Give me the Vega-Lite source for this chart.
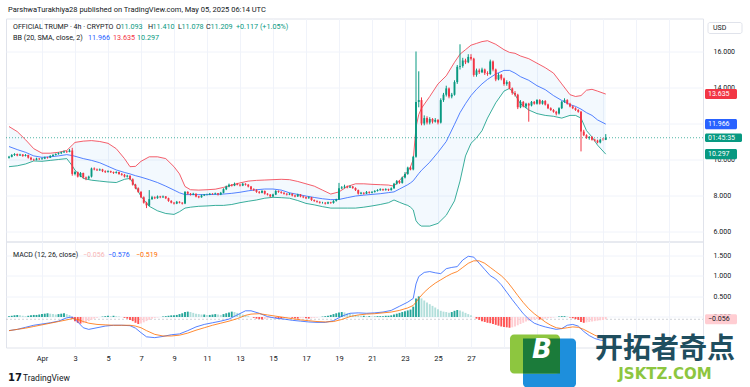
{
"$schema":"https://vega.github.io/schema/vega-lite/v6.json",
"padding":{"left":5,"top":5.5,"right":0,"bottom":0},
"background":"#ffffff",
"spacing":0,
"bounds":"flush",
"resolve":{"scale":{"x":"independent","y":"independent","color":"independent"}},
"config":{"scale":{"continuousPadding":0},"view":{"stroke":"#e0e3eb"},"axis":{"labelFont":"Roboto","labelFontSize":7,"labelColor":"#131722","gridColor":"#f0f3fa","domain":false,"ticks":false,"tickSize":0,"title":null,"labelOverlap":false,"labelFlush":false},"text":{"font":"Roboto"}},
"datasets":{
"k":[
{"t":"2025-03-30T00:00Z","o":10.1,"h":10.2,"l":10.05,"c":10.15,"m":0.02},
{"t":"2025-03-30T04:00Z","o":10.15,"h":10.3,"l":10.12,"c":10.25,"m":0.03},
{"t":"2025-03-30T08:00Z","o":10.25,"h":10.35,"l":10.2,"c":10.3,"m":0.04},
{"t":"2025-03-30T12:00Z","o":10.3,"h":10.33,"l":10.18,"c":10.22,"m":0.05},
{"t":"2025-03-30T16:00Z","o":10.22,"h":10.32,"l":10.2,"c":10.28,"m":0.04},
{"t":"2025-03-30T20:00Z","o":10.28,"h":10.3,"l":10.15,"c":10.2,"m":0.03},
{"t":"2025-03-31T00:00Z","o":10.2,"h":10.3,"l":10.17,"c":10.25,"m":0.02},
{"t":"2025-03-31T04:00Z","o":10.25,"h":10.27,"l":10.05,"c":10.1,"m":0.03},
{"t":"2025-03-31T08:00Z","o":10.1,"h":10.15,"l":9.95,"c":10.0,"m":0.04},
{"t":"2025-03-31T12:00Z","o":10.0,"h":10.05,"l":9.92,"c":9.98,"m":0.05},
{"t":"2025-03-31T16:00Z","o":9.98,"h":10.1,"l":9.95,"c":10.05,"m":0.05},
{"t":"2025-03-31T20:00Z","o":10.05,"h":10.08,"l":9.97,"c":10.02,"m":0.06},
{"t":"2025-04-01T00:00Z","o":10.02,"h":10.1,"l":10.0,"c":10.05,"m":0.07},
{"t":"2025-04-01T04:00Z","o":10.05,"h":10.16,"l":10.02,"c":10.12,"m":0.08},
{"t":"2025-04-01T08:00Z","o":10.12,"h":10.15,"l":10.05,"c":10.1,"m":0.09},
{"t":"2025-04-01T12:00Z","o":10.1,"h":10.24,"l":10.08,"c":10.2,"m":0.08},
{"t":"2025-04-01T16:00Z","o":10.2,"h":10.3,"l":10.17,"c":10.25,"m":0.07},
{"t":"2025-04-01T20:00Z","o":10.25,"h":10.34,"l":10.22,"c":10.3,"m":0.06},
{"t":"2025-04-02T00:00Z","o":10.3,"h":10.4,"l":10.27,"c":10.35,"m":0.07},
{"t":"2025-04-02T04:00Z","o":10.35,"h":10.44,"l":10.3,"c":10.4,"m":0.08},
{"t":"2025-04-02T08:00Z","o":10.4,"h":10.5,"l":10.36,"c":10.45,"m":0.09},
{"t":"2025-04-02T12:00Z","o":10.45,"h":10.48,"l":10.36,"c":10.42,"m":0.07},
{"t":"2025-04-02T16:00Z","o":10.42,"h":10.58,"l":10.4,"c":10.5,"m":0.05},
{"t":"2025-04-02T20:00Z","o":10.5,"h":10.65,"l":9.1,"c":9.2,"m":-0.04},
{"t":"2025-04-03T00:00Z","o":9.2,"h":9.38,"l":9.12,"c":9.3,"m":-0.1},
{"t":"2025-04-03T04:00Z","o":9.3,"h":9.33,"l":9.0,"c":9.05,"m":-0.14},
{"t":"2025-04-03T08:00Z","o":9.05,"h":9.3,"l":9.02,"c":9.25,"m":-0.16},
{"t":"2025-04-03T12:00Z","o":9.25,"h":9.27,"l":8.95,"c":9.0,"m":-0.15},
{"t":"2025-04-03T16:00Z","o":9.0,"h":9.05,"l":8.85,"c":8.95,"m":-0.13},
{"t":"2025-04-03T20:00Z","o":8.95,"h":9.1,"l":8.9,"c":9.05,"m":-0.1},
{"t":"2025-04-04T00:00Z","o":9.05,"h":9.55,"l":9.0,"c":9.5,"m":-0.07},
{"t":"2025-04-04T04:00Z","o":9.5,"h":9.56,"l":9.4,"c":9.45,"m":-0.04},
{"t":"2025-04-04T08:00Z","o":9.45,"h":9.5,"l":9.36,"c":9.4,"m":-0.02},
{"t":"2025-04-04T12:00Z","o":9.4,"h":9.5,"l":9.37,"c":9.45,"m":0.0},
{"t":"2025-04-04T16:00Z","o":9.45,"h":9.48,"l":9.3,"c":9.35,"m":0.01},
{"t":"2025-04-04T20:00Z","o":9.35,"h":9.4,"l":9.25,"c":9.3,"m":0.02},
{"t":"2025-04-05T00:00Z","o":9.3,"h":9.4,"l":9.27,"c":9.35,"m":0.03},
{"t":"2025-04-05T04:00Z","o":9.35,"h":9.38,"l":9.25,"c":9.3,"m":0.02},
{"t":"2025-04-05T08:00Z","o":9.3,"h":9.33,"l":9.2,"c":9.25,"m":0.03},
{"t":"2025-04-05T12:00Z","o":9.25,"h":9.35,"l":9.22,"c":9.3,"m":0.02},
{"t":"2025-04-05T16:00Z","o":9.3,"h":9.32,"l":9.15,"c":9.2,"m":0.01},
{"t":"2025-04-05T20:00Z","o":9.2,"h":9.25,"l":9.1,"c":9.15,"m":0.0},
{"t":"2025-04-06T00:00Z","o":9.15,"h":9.2,"l":9.0,"c":9.05,"m":-0.02},
{"t":"2025-04-06T04:00Z","o":9.05,"h":9.15,"l":9.0,"c":9.1,"m":-0.04},
{"t":"2025-04-06T08:00Z","o":9.1,"h":9.12,"l":8.85,"c":8.9,"m":-0.07},
{"t":"2025-04-06T12:00Z","o":8.9,"h":8.95,"l":8.55,"c":8.6,"m":-0.1},
{"t":"2025-04-06T16:00Z","o":8.6,"h":8.65,"l":8.35,"c":8.4,"m":-0.14},
{"t":"2025-04-06T20:00Z","o":8.4,"h":8.45,"l":8.15,"c":8.2,"m":-0.17},
{"t":"2025-04-07T00:00Z","o":8.2,"h":8.25,"l":7.85,"c":7.9,"m":-0.16},
{"t":"2025-04-07T04:00Z","o":7.9,"h":7.95,"l":7.55,"c":7.6,"m":-0.13},
{"t":"2025-04-07T08:00Z","o":7.6,"h":7.65,"l":7.3,"c":7.45,"m":-0.1},
{"t":"2025-04-07T12:00Z","o":7.45,"h":8.3,"l":7.4,"c":7.8,"m":-0.07},
{"t":"2025-04-07T16:00Z","o":7.8,"h":7.98,"l":7.75,"c":7.9,"m":-0.04},
{"t":"2025-04-07T20:00Z","o":7.9,"h":7.95,"l":7.8,"c":7.85,"m":-0.02},
{"t":"2025-04-08T00:00Z","o":7.85,"h":8.0,"l":7.82,"c":7.95,"m":-0.01},
{"t":"2025-04-08T04:00Z","o":7.95,"h":7.98,"l":7.85,"c":7.9,"m":0.0},
{"t":"2025-04-08T08:00Z","o":7.9,"h":8.0,"l":7.86,"c":7.95,"m":0.01},
{"t":"2025-04-08T12:00Z","o":7.95,"h":7.97,"l":7.8,"c":7.85,"m":0.02},
{"t":"2025-04-08T16:00Z","o":7.85,"h":7.88,"l":7.65,"c":7.7,"m":0.03},
{"t":"2025-04-08T20:00Z","o":7.7,"h":7.74,"l":7.56,"c":7.6,"m":0.04},
{"t":"2025-04-09T00:00Z","o":7.6,"h":7.64,"l":7.5,"c":7.55,"m":0.04},
{"t":"2025-04-09T04:00Z","o":7.55,"h":7.7,"l":7.52,"c":7.65,"m":0.05},
{"t":"2025-04-09T08:00Z","o":7.65,"h":7.68,"l":7.56,"c":7.6,"m":0.07},
{"t":"2025-04-09T12:00Z","o":7.6,"h":7.63,"l":7.5,"c":7.55,"m":0.09},
{"t":"2025-04-09T16:00Z","o":7.55,"h":8.25,"l":7.52,"c":8.2,"m":0.12},
{"t":"2025-04-09T20:00Z","o":8.2,"h":8.24,"l":8.05,"c":8.1,"m":0.13},
{"t":"2025-04-10T00:00Z","o":8.1,"h":8.14,"l":8.0,"c":8.05,"m":0.12},
{"t":"2025-04-10T04:00Z","o":8.05,"h":8.15,"l":8.02,"c":8.1,"m":0.1},
{"t":"2025-04-10T08:00Z","o":8.1,"h":8.12,"l":7.9,"c":7.95,"m":0.08},
{"t":"2025-04-10T12:00Z","o":7.95,"h":7.98,"l":7.85,"c":7.9,"m":0.07},
{"t":"2025-04-10T16:00Z","o":7.9,"h":8.05,"l":7.88,"c":8.0,"m":0.06},
{"t":"2025-04-10T20:00Z","o":8.0,"h":8.08,"l":7.97,"c":8.05,"m":0.06},
{"t":"2025-04-11T00:00Z","o":8.05,"h":8.1,"l":8.0,"c":8.05,"m":0.05},
{"t":"2025-04-11T04:00Z","o":8.05,"h":8.14,"l":8.02,"c":8.1,"m":0.05},
{"t":"2025-04-11T08:00Z","o":8.1,"h":8.13,"l":8.04,"c":8.08,"m":0.06},
{"t":"2025-04-11T12:00Z","o":8.08,"h":8.16,"l":8.05,"c":8.12,"m":0.07},
{"t":"2025-04-11T16:00Z","o":8.12,"h":8.14,"l":8.0,"c":8.05,"m":0.06},
{"t":"2025-04-11T20:00Z","o":8.05,"h":8.2,"l":8.02,"c":8.15,"m":0.05},
{"t":"2025-04-12T00:00Z","o":8.15,"h":8.4,"l":8.12,"c":8.35,"m":0.07},
{"t":"2025-04-12T04:00Z","o":8.35,"h":8.55,"l":8.3,"c":8.5,"m":0.09},
{"t":"2025-04-12T08:00Z","o":8.5,"h":8.66,"l":8.46,"c":8.6,"m":0.11},
{"t":"2025-04-12T12:00Z","o":8.6,"h":8.63,"l":8.5,"c":8.55,"m":0.13},
{"t":"2025-04-12T16:00Z","o":8.55,"h":8.72,"l":8.52,"c":8.65,"m":0.12},
{"t":"2025-04-12T20:00Z","o":8.65,"h":8.7,"l":8.56,"c":8.6,"m":0.1},
{"t":"2025-04-13T00:00Z","o":8.6,"h":8.64,"l":8.5,"c":8.55,"m":0.08},
{"t":"2025-04-13T04:00Z","o":8.55,"h":8.7,"l":8.52,"c":8.65,"m":0.06},
{"t":"2025-04-13T08:00Z","o":8.65,"h":8.68,"l":8.55,"c":8.6,"m":0.04},
{"t":"2025-04-13T12:00Z","o":8.6,"h":8.63,"l":8.45,"c":8.5,"m":0.02},
{"t":"2025-04-13T16:00Z","o":8.5,"h":8.53,"l":8.3,"c":8.35,"m":0.0},
{"t":"2025-04-13T20:00Z","o":8.35,"h":8.4,"l":8.25,"c":8.3,"m":-0.02},
{"t":"2025-04-14T00:00Z","o":8.3,"h":8.35,"l":8.15,"c":8.2,"m":-0.04},
{"t":"2025-04-14T04:00Z","o":8.2,"h":8.25,"l":8.1,"c":8.15,"m":-0.05},
{"t":"2025-04-14T08:00Z","o":8.15,"h":8.3,"l":8.12,"c":8.25,"m":-0.06},
{"t":"2025-04-14T12:00Z","o":8.25,"h":8.28,"l":8.05,"c":8.1,"m":-0.05},
{"t":"2025-04-14T16:00Z","o":8.1,"h":8.13,"l":8.0,"c":8.05,"m":-0.04},
{"t":"2025-04-14T20:00Z","o":8.05,"h":8.08,"l":7.9,"c":7.95,"m":-0.02},
{"t":"2025-04-15T00:00Z","o":7.95,"h":8.1,"l":7.92,"c":8.05,"m":-0.01},
{"t":"2025-04-15T04:00Z","o":8.05,"h":8.3,"l":8.02,"c":8.25,"m":-0.02},
{"t":"2025-04-15T08:00Z","o":8.25,"h":8.28,"l":8.15,"c":8.2,"m":-0.03},
{"t":"2025-04-15T12:00Z","o":8.2,"h":8.24,"l":8.1,"c":8.15,"m":-0.04},
{"t":"2025-04-15T16:00Z","o":8.15,"h":8.18,"l":8.05,"c":8.1,"m":-0.03},
{"t":"2025-04-15T20:00Z","o":8.1,"h":8.13,"l":8.0,"c":8.05,"m":-0.02},
{"t":"2025-04-16T00:00Z","o":8.05,"h":8.15,"l":8.02,"c":8.1,"m":-0.01},
{"t":"2025-04-16T04:00Z","o":8.1,"h":8.12,"l":7.95,"c":8.0,"m":-0.02},
{"t":"2025-04-16T08:00Z","o":8.0,"h":8.04,"l":7.9,"c":7.95,"m":-0.03},
{"t":"2025-04-16T12:00Z","o":7.95,"h":8.1,"l":7.92,"c":8.05,"m":-0.04},
{"t":"2025-04-16T16:00Z","o":8.05,"h":8.08,"l":7.9,"c":7.95,"m":-0.03},
{"t":"2025-04-16T20:00Z","o":7.95,"h":7.98,"l":7.85,"c":7.9,"m":-0.02},
{"t":"2025-04-17T00:00Z","o":7.9,"h":7.94,"l":7.8,"c":7.85,"m":-0.03},
{"t":"2025-04-17T04:00Z","o":7.85,"h":7.95,"l":7.82,"c":7.9,"m":-0.04},
{"t":"2025-04-17T08:00Z","o":7.9,"h":7.92,"l":7.7,"c":7.75,"m":-0.03},
{"t":"2025-04-17T12:00Z","o":7.75,"h":7.78,"l":7.65,"c":7.7,"m":-0.02},
{"t":"2025-04-17T16:00Z","o":7.7,"h":7.73,"l":7.6,"c":7.65,"m":-0.01},
{"t":"2025-04-17T20:00Z","o":7.65,"h":7.68,"l":7.55,"c":7.6,"m":0.0},
{"t":"2025-04-18T00:00Z","o":7.6,"h":7.65,"l":7.55,"c":7.6,"m":0.01},
{"t":"2025-04-18T04:00Z","o":7.6,"h":7.63,"l":7.5,"c":7.55,"m":0.02},
{"t":"2025-04-18T08:00Z","o":7.55,"h":7.66,"l":7.52,"c":7.62,"m":0.03},
{"t":"2025-04-18T12:00Z","o":7.62,"h":7.65,"l":7.54,"c":7.58,"m":0.05},
{"t":"2025-04-18T16:00Z","o":7.58,"h":7.74,"l":7.55,"c":7.7,"m":0.07},
{"t":"2025-04-18T20:00Z","o":7.7,"h":7.82,"l":7.66,"c":7.78,"m":0.09},
{"t":"2025-04-19T00:00Z","o":7.78,"h":8.7,"l":7.75,"c":8.4,"m":0.11},
{"t":"2025-04-19T04:00Z","o":8.4,"h":8.52,"l":8.35,"c":8.45,"m":0.12},
{"t":"2025-04-19T08:00Z","o":8.45,"h":8.6,"l":8.4,"c":8.5,"m":0.11},
{"t":"2025-04-19T12:00Z","o":8.5,"h":8.55,"l":8.4,"c":8.45,"m":0.09},
{"t":"2025-04-19T16:00Z","o":8.45,"h":8.56,"l":8.42,"c":8.5,"m":0.07},
{"t":"2025-04-19T20:00Z","o":8.5,"h":8.53,"l":8.37,"c":8.42,"m":0.06},
{"t":"2025-04-20T00:00Z","o":8.42,"h":8.45,"l":8.25,"c":8.3,"m":0.05},
{"t":"2025-04-20T04:00Z","o":8.3,"h":8.33,"l":8.05,"c":8.1,"m":0.04},
{"t":"2025-04-20T08:00Z","o":8.1,"h":8.2,"l":8.06,"c":8.15,"m":0.03},
{"t":"2025-04-20T12:00Z","o":8.15,"h":8.18,"l":8.05,"c":8.1,"m":0.03},
{"t":"2025-04-20T16:00Z","o":8.1,"h":8.25,"l":8.08,"c":8.2,"m":0.02},
{"t":"2025-04-20T20:00Z","o":8.2,"h":8.23,"l":8.1,"c":8.15,"m":0.02},
{"t":"2025-04-21T00:00Z","o":8.15,"h":8.25,"l":8.12,"c":8.2,"m":0.01},
{"t":"2025-04-21T04:00Z","o":8.2,"h":8.3,"l":8.16,"c":8.25,"m":0.01},
{"t":"2025-04-21T08:00Z","o":8.25,"h":8.35,"l":8.22,"c":8.3,"m":0.02},
{"t":"2025-04-21T12:00Z","o":8.3,"h":8.4,"l":8.26,"c":8.35,"m":0.02},
{"t":"2025-04-21T16:00Z","o":8.35,"h":8.38,"l":8.25,"c":8.3,"m":0.02},
{"t":"2025-04-21T20:00Z","o":8.3,"h":8.4,"l":8.27,"c":8.35,"m":0.03},
{"t":"2025-04-22T00:00Z","o":8.35,"h":8.38,"l":8.25,"c":8.3,"m":0.03},
{"t":"2025-04-22T04:00Z","o":8.3,"h":8.45,"l":8.27,"c":8.4,"m":0.04},
{"t":"2025-04-22T08:00Z","o":8.4,"h":8.7,"l":8.37,"c":8.65,"m":0.06},
{"t":"2025-04-22T12:00Z","o":8.65,"h":8.86,"l":8.6,"c":8.8,"m":0.08},
{"t":"2025-04-22T16:00Z","o":8.8,"h":8.85,"l":8.65,"c":8.7,"m":0.1},
{"t":"2025-04-22T20:00Z","o":8.7,"h":9.05,"l":8.66,"c":9.0,"m":0.12},
{"t":"2025-04-23T00:00Z","o":9.0,"h":9.3,"l":8.95,"c":9.2,"m":0.14},
{"t":"2025-04-23T04:00Z","o":9.2,"h":9.6,"l":9.15,"c":9.55,"m":0.16},
{"t":"2025-04-23T08:00Z","o":9.55,"h":9.62,"l":9.4,"c":9.45,"m":0.18},
{"t":"2025-04-23T12:00Z","o":9.45,"h":10.2,"l":9.4,"c":10.15,"m":0.25},
{"t":"2025-04-23T16:00Z","o":10.15,"h":16.0,"l":10.1,"c":13.2,"m":0.45},
{"t":"2025-04-23T20:00Z","o":13.2,"h":14.9,"l":12.9,"c":13.3,"m":0.5},
{"t":"2025-04-24T00:00Z","o":13.3,"h":13.45,"l":11.9,"c":12.0,"m":0.45},
{"t":"2025-04-24T04:00Z","o":12.0,"h":12.45,"l":11.9,"c":12.3,"m":0.4},
{"t":"2025-04-24T08:00Z","o":12.3,"h":12.4,"l":11.95,"c":12.05,"m":0.35},
{"t":"2025-04-24T12:00Z","o":12.05,"h":12.35,"l":11.95,"c":12.25,"m":0.31},
{"t":"2025-04-24T16:00Z","o":12.25,"h":12.3,"l":12.0,"c":12.1,"m":0.27},
{"t":"2025-04-24T20:00Z","o":12.1,"h":12.3,"l":12.05,"c":12.2,"m":0.23},
{"t":"2025-04-25T00:00Z","o":12.2,"h":12.25,"l":11.95,"c":12.05,"m":0.19},
{"t":"2025-04-25T04:00Z","o":12.05,"h":13.4,"l":12.0,"c":13.3,"m":0.15},
{"t":"2025-04-25T08:00Z","o":13.3,"h":13.7,"l":13.2,"c":13.6,"m":0.13},
{"t":"2025-04-25T12:00Z","o":13.6,"h":14.1,"l":13.5,"c":13.95,"m":0.12},
{"t":"2025-04-25T16:00Z","o":13.95,"h":14.0,"l":13.4,"c":13.5,"m":0.1},
{"t":"2025-04-25T20:00Z","o":13.5,"h":13.7,"l":13.4,"c":13.6,"m":0.12},
{"t":"2025-04-26T00:00Z","o":13.6,"h":14.4,"l":13.55,"c":14.3,"m":0.15},
{"t":"2025-04-26T04:00Z","o":14.3,"h":15.25,"l":14.2,"c":15.15,"m":0.17},
{"t":"2025-04-26T08:00Z","o":15.15,"h":16.4,"l":15.0,"c":15.2,"m":0.16},
{"t":"2025-04-26T12:00Z","o":15.2,"h":15.65,"l":15.1,"c":15.5,"m":0.13},
{"t":"2025-04-26T16:00Z","o":15.5,"h":15.6,"l":15.3,"c":15.4,"m":0.1},
{"t":"2025-04-26T20:00Z","o":15.4,"h":15.85,"l":15.35,"c":15.7,"m":0.07},
{"t":"2025-04-27T00:00Z","o":15.7,"h":15.85,"l":15.5,"c":15.6,"m":0.04},
{"t":"2025-04-27T04:00Z","o":15.6,"h":15.65,"l":14.6,"c":14.7,"m":0.0},
{"t":"2025-04-27T08:00Z","o":14.7,"h":15.05,"l":14.6,"c":14.95,"m":-0.04},
{"t":"2025-04-27T12:00Z","o":14.95,"h":15.05,"l":14.75,"c":14.85,"m":-0.07},
{"t":"2025-04-27T16:00Z","o":14.85,"h":15.1,"l":14.8,"c":15.0,"m":-0.1},
{"t":"2025-04-27T20:00Z","o":15.0,"h":15.05,"l":14.7,"c":14.8,"m":-0.12},
{"t":"2025-04-28T00:00Z","o":14.8,"h":14.9,"l":14.65,"c":14.75,"m":-0.14},
{"t":"2025-04-28T04:00Z","o":14.75,"h":15.55,"l":14.7,"c":15.45,"m":-0.15},
{"t":"2025-04-28T08:00Z","o":15.45,"h":15.5,"l":14.9,"c":15.0,"m":-0.17},
{"t":"2025-04-28T12:00Z","o":15.0,"h":15.05,"l":14.35,"c":14.45,"m":-0.19},
{"t":"2025-04-28T16:00Z","o":14.45,"h":14.8,"l":14.4,"c":14.7,"m":-0.21},
{"t":"2025-04-28T20:00Z","o":14.7,"h":14.75,"l":14.4,"c":14.5,"m":-0.23},
{"t":"2025-04-29T00:00Z","o":14.5,"h":14.55,"l":14.1,"c":14.2,"m":-0.24},
{"t":"2025-04-29T04:00Z","o":14.2,"h":14.4,"l":14.1,"c":14.3,"m":-0.25},
{"t":"2025-04-29T08:00Z","o":14.3,"h":14.35,"l":13.9,"c":13.95,"m":-0.26},
{"t":"2025-04-29T12:00Z","o":13.95,"h":14.0,"l":13.6,"c":13.7,"m":-0.25},
{"t":"2025-04-29T16:00Z","o":13.7,"h":13.8,"l":13.5,"c":13.6,"m":-0.23},
{"t":"2025-04-29T20:00Z","o":13.6,"h":13.65,"l":12.8,"c":12.9,"m":-0.2},
{"t":"2025-04-30T00:00Z","o":12.9,"h":13.3,"l":12.85,"c":13.2,"m":-0.17},
{"t":"2025-04-30T04:00Z","o":13.2,"h":13.25,"l":12.9,"c":12.95,"m":-0.14},
{"t":"2025-04-30T08:00Z","o":12.95,"h":13.15,"l":12.85,"c":13.1,"m":-0.11},
{"t":"2025-04-30T12:00Z","o":13.1,"h":13.15,"l":12.1,"c":13.0,"m":-0.09},
{"t":"2025-04-30T16:00Z","o":13.0,"h":13.25,"l":12.95,"c":13.2,"m":-0.07},
{"t":"2025-04-30T20:00Z","o":13.2,"h":13.25,"l":13.05,"c":13.1,"m":-0.06},
{"t":"2025-05-01T00:00Z","o":13.1,"h":13.35,"l":13.05,"c":13.3,"m":-0.05},
{"t":"2025-05-01T04:00Z","o":13.3,"h":13.35,"l":13.05,"c":13.1,"m":-0.06},
{"t":"2025-05-01T08:00Z","o":13.1,"h":13.3,"l":13.05,"c":13.25,"m":-0.05},
{"t":"2025-05-01T12:00Z","o":13.25,"h":13.3,"l":13.0,"c":13.05,"m":-0.04},
{"t":"2025-05-01T16:00Z","o":13.05,"h":13.1,"l":12.8,"c":12.85,"m":-0.03},
{"t":"2025-05-01T20:00Z","o":12.85,"h":12.9,"l":12.7,"c":12.75,"m":-0.02},
{"t":"2025-05-02T00:00Z","o":12.75,"h":12.8,"l":12.6,"c":12.65,"m":-0.01},
{"t":"2025-05-02T04:00Z","o":12.65,"h":12.7,"l":12.45,"c":12.55,"m":0.0},
{"t":"2025-05-02T08:00Z","o":12.55,"h":12.9,"l":12.5,"c":12.85,"m":0.01},
{"t":"2025-05-02T12:00Z","o":12.85,"h":13.25,"l":12.8,"c":13.2,"m":0.02},
{"t":"2025-05-02T16:00Z","o":13.2,"h":13.4,"l":13.15,"c":13.3,"m":0.02},
{"t":"2025-05-02T20:00Z","o":13.3,"h":13.35,"l":13.05,"c":13.1,"m":0.01},
{"t":"2025-05-03T00:00Z","o":13.1,"h":13.15,"l":12.9,"c":12.95,"m":-0.01},
{"t":"2025-05-03T04:00Z","o":12.95,"h":13.0,"l":12.8,"c":12.85,"m":-0.03},
{"t":"2025-05-03T08:00Z","o":12.85,"h":12.9,"l":12.7,"c":12.75,"m":-0.05},
{"t":"2025-05-03T12:00Z","o":12.75,"h":12.8,"l":12.6,"c":12.65,"m":-0.07},
{"t":"2025-05-03T16:00Z","o":12.65,"h":12.7,"l":10.45,"c":11.55,"m":-0.12},
{"t":"2025-05-03T20:00Z","o":11.55,"h":11.65,"l":11.3,"c":11.35,"m":-0.14},
{"t":"2025-05-04T00:00Z","o":11.35,"h":11.4,"l":11.15,"c":11.2,"m":-0.13},
{"t":"2025-05-04T04:00Z","o":11.2,"h":11.3,"l":11.1,"c":11.25,"m":-0.12},
{"t":"2025-05-04T08:00Z","o":11.25,"h":11.3,"l":11.05,"c":11.1,"m":-0.11},
{"t":"2025-05-04T12:00Z","o":11.1,"h":11.15,"l":11.0,"c":11.05,"m":-0.1},
{"t":"2025-05-04T16:00Z","o":11.05,"h":11.1,"l":10.9,"c":10.95,"m":-0.09},
{"t":"2025-05-04T20:00Z","o":10.95,"h":11.15,"l":10.9,"c":11.1,"m":-0.08},
{"t":"2025-05-05T00:00Z","o":11.1,"h":11.2,"l":11.05,"c":11.093,"m":-0.07},
{"t":"2025-05-05T04:00Z","o":11.093,"h":11.41,"l":11.078,"c":11.209,"m":-0.056}
],
"bb":[
{"t":"2025-03-30T00:00Z","u":11.83,"m":10.72,"l":9.6},
{"t":"2025-03-30T12:00Z","u":11.55,"m":10.55,"l":9.65},
{"t":"2025-03-31T00:00Z","u":11.1,"m":10.4,"l":9.75},
{"t":"2025-03-31T12:00Z","u":10.6,"m":10.2,"l":9.92},
{"t":"2025-04-01T00:00Z","u":10.35,"m":10.12,"l":9.9},
{"t":"2025-04-01T12:00Z","u":10.35,"m":10.15,"l":9.95},
{"t":"2025-04-02T00:00Z","u":10.4,"m":10.2,"l":10.0},
{"t":"2025-04-02T12:00Z","u":10.5,"m":10.27,"l":10.05},
{"t":"2025-04-02T20:00Z","u":10.8,"m":10.22,"l":9.65},
{"t":"2025-04-03T00:00Z","u":10.95,"m":10.18,"l":9.4},
{"t":"2025-04-03T12:00Z","u":11.02,"m":10.05,"l":8.95},
{"t":"2025-04-04T00:00Z","u":11.05,"m":9.95,"l":8.85},
{"t":"2025-04-04T12:00Z","u":11.0,"m":9.82,"l":8.8},
{"t":"2025-04-05T00:00Z","u":10.9,"m":9.62,"l":8.75},
{"t":"2025-04-05T12:00Z","u":10.6,"m":9.42,"l":8.72},
{"t":"2025-04-06T00:00Z","u":10.05,"m":9.28,"l":8.9},
{"t":"2025-04-06T08:00Z","u":9.6,"m":9.2,"l":8.95},
{"t":"2025-04-06T16:00Z","u":9.62,"m":9.1,"l":8.5},
{"t":"2025-04-07T00:00Z","u":9.9,"m":9.02,"l":7.95},
{"t":"2025-04-07T12:00Z","u":10.15,"m":8.88,"l":7.4},
{"t":"2025-04-08T00:00Z","u":10.15,"m":8.72,"l":7.15},
{"t":"2025-04-08T12:00Z","u":10.05,"m":8.52,"l":7.0},
{"t":"2025-04-09T00:00Z","u":9.6,"m":8.3,"l":6.95},
{"t":"2025-04-09T08:00Z","u":9.2,"m":8.15,"l":7.1},
{"t":"2025-04-09T16:00Z","u":8.5,"m":8.05,"l":7.3},
{"t":"2025-04-10T00:00Z","u":8.32,"m":8.05,"l":7.35},
{"t":"2025-04-10T12:00Z","u":8.3,"m":8.05,"l":7.4},
{"t":"2025-04-11T00:00Z","u":8.32,"m":8.05,"l":7.42},
{"t":"2025-04-11T12:00Z","u":8.35,"m":8.06,"l":7.45},
{"t":"2025-04-12T00:00Z","u":8.45,"m":8.08,"l":7.45},
{"t":"2025-04-12T12:00Z","u":8.58,"m":8.12,"l":7.5},
{"t":"2025-04-13T00:00Z","u":8.7,"m":8.18,"l":7.6},
{"t":"2025-04-13T12:00Z","u":8.8,"m":8.26,"l":7.68},
{"t":"2025-04-14T00:00Z","u":8.84,"m":8.32,"l":7.75},
{"t":"2025-04-14T12:00Z","u":8.86,"m":8.36,"l":7.85},
{"t":"2025-04-15T00:00Z","u":8.88,"m":8.36,"l":7.9},
{"t":"2025-04-15T12:00Z","u":8.9,"m":8.3,"l":7.88},
{"t":"2025-04-16T00:00Z","u":8.88,"m":8.15,"l":7.85},
{"t":"2025-04-16T12:00Z","u":8.78,"m":8.06,"l":7.72},
{"t":"2025-04-17T00:00Z","u":8.65,"m":7.97,"l":7.56},
{"t":"2025-04-17T12:00Z","u":8.52,"m":7.89,"l":7.48},
{"t":"2025-04-18T00:00Z","u":8.3,"m":7.82,"l":7.38},
{"t":"2025-04-18T12:00Z","u":8.08,"m":7.77,"l":7.3},
{"t":"2025-04-19T00:00Z","u":8.2,"m":7.78,"l":7.3},
{"t":"2025-04-19T12:00Z","u":8.5,"m":7.88,"l":7.3},
{"t":"2025-04-20T00:00Z","u":8.65,"m":7.97,"l":7.3},
{"t":"2025-04-20T12:00Z","u":8.65,"m":8.02,"l":7.35},
{"t":"2025-04-21T00:00Z","u":8.62,"m":8.06,"l":7.42},
{"t":"2025-04-21T12:00Z","u":8.6,"m":8.1,"l":7.5},
{"t":"2025-04-22T00:00Z","u":8.58,"m":8.16,"l":7.6},
{"t":"2025-04-22T08:00Z","u":8.52,"m":8.2,"l":7.75},
{"t":"2025-04-22T16:00Z","u":8.85,"m":8.36,"l":7.62},
{"t":"2025-04-23T00:00Z","u":9.15,"m":8.52,"l":7.5},
{"t":"2025-04-23T04:00Z","u":9.35,"m":8.6,"l":7.45},
{"t":"2025-04-23T08:00Z","u":9.6,"m":8.7,"l":7.35},
{"t":"2025-04-23T12:00Z","u":10.0,"m":8.82,"l":7.2},
{"t":"2025-04-23T16:00Z","u":11.8,"m":9.02,"l":6.6},
{"t":"2025-04-23T20:00Z","u":12.5,"m":9.22,"l":6.4},
{"t":"2025-04-24T00:00Z","u":12.85,"m":9.4,"l":6.3},
{"t":"2025-04-24T12:00Z","u":13.5,"m":9.85,"l":6.3},
{"t":"2025-04-25T00:00Z","u":14.2,"m":10.4,"l":6.45},
{"t":"2025-04-25T12:00Z","u":14.65,"m":11.0,"l":6.9},
{"t":"2025-04-26T00:00Z","u":15.4,"m":11.95,"l":7.7},
{"t":"2025-04-26T08:00Z","u":15.85,"m":12.6,"l":8.8},
{"t":"2025-04-26T16:00Z","u":16.1,"m":13.1,"l":10.2},
{"t":"2025-04-27T00:00Z","u":16.35,"m":13.55,"l":10.9},
{"t":"2025-04-27T08:00Z","u":16.45,"m":13.9,"l":11.2},
{"t":"2025-04-27T16:00Z","u":16.55,"m":14.2,"l":11.6},
{"t":"2025-04-28T00:00Z","u":16.6,"m":14.45,"l":12.3},
{"t":"2025-04-28T12:00Z","u":16.4,"m":14.75,"l":13.15},
{"t":"2025-04-29T00:00Z","u":16.1,"m":14.95,"l":13.8},
{"t":"2025-04-29T08:00Z","u":15.95,"m":14.95,"l":13.95},
{"t":"2025-04-29T16:00Z","u":15.9,"m":14.8,"l":13.6},
{"t":"2025-04-30T00:00Z","u":15.75,"m":14.6,"l":13.1},
{"t":"2025-04-30T12:00Z","u":15.6,"m":14.4,"l":12.75},
{"t":"2025-05-01T00:00Z","u":15.35,"m":14.1,"l":12.55},
{"t":"2025-05-01T12:00Z","u":15.1,"m":13.88,"l":12.45},
{"t":"2025-05-02T00:00Z","u":14.8,"m":13.55,"l":12.4},
{"t":"2025-05-02T12:00Z","u":14.2,"m":13.28,"l":12.3},
{"t":"2025-05-03T00:00Z","u":13.6,"m":13.05,"l":12.45},
{"t":"2025-05-03T08:00Z","u":13.5,"m":12.95,"l":12.45},
{"t":"2025-05-03T16:00Z","u":13.55,"m":12.8,"l":12.3},
{"t":"2025-05-04T00:00Z","u":13.85,"m":12.6,"l":11.6},
{"t":"2025-05-04T08:00Z","u":13.9,"m":12.45,"l":11.25},
{"t":"2025-05-04T16:00Z","u":13.8,"m":12.2,"l":10.8},
{"t":"2025-05-05T04:00Z","u":13.635,"m":11.966,"l":10.297}
],
"md":[
{"t":"2025-03-30T00:00Z","a":-0.33,"s":-0.33},
{"t":"2025-03-30T12:00Z","a":-0.3,"s":-0.3},
{"t":"2025-03-31T00:00Z","a":-0.25,"s":-0.27},
{"t":"2025-03-31T12:00Z","a":-0.2,"s":-0.23},
{"t":"2025-04-01T00:00Z","a":-0.17,"s":-0.19},
{"t":"2025-04-01T12:00Z","a":-0.14,"s":-0.15},
{"t":"2025-04-02T00:00Z","a":-0.1,"s":-0.11},
{"t":"2025-04-02T12:00Z","a":-0.02,"s":-0.07},
{"t":"2025-04-02T20:00Z","a":0.0,"s":-0.04},
{"t":"2025-04-03T04:00Z","a":-0.12,"s":-0.06},
{"t":"2025-04-03T12:00Z","a":-0.26,"s":-0.11},
{"t":"2025-04-03T20:00Z","a":-0.3,"s":-0.15},
{"t":"2025-04-04T08:00Z","a":-0.26,"s":-0.18},
{"t":"2025-04-04T20:00Z","a":-0.22,"s":-0.19},
{"t":"2025-04-05T08:00Z","a":-0.2,"s":-0.2},
{"t":"2025-04-05T20:00Z","a":-0.2,"s":-0.2},
{"t":"2025-04-06T08:00Z","a":-0.21,"s":-0.2},
{"t":"2025-04-06T16:00Z","a":-0.27,"s":-0.22},
{"t":"2025-04-07T00:00Z","a":-0.38,"s":-0.26},
{"t":"2025-04-07T08:00Z","a":-0.48,"s":-0.33},
{"t":"2025-04-07T20:00Z","a":-0.5,"s":-0.42},
{"t":"2025-04-08T08:00Z","a":-0.47,"s":-0.46},
{"t":"2025-04-08T20:00Z","a":-0.43,"s":-0.46},
{"t":"2025-04-09T08:00Z","a":-0.41,"s":-0.44},
{"t":"2025-04-09T20:00Z","a":-0.33,"s":-0.39},
{"t":"2025-04-10T08:00Z","a":-0.24,"s":-0.32},
{"t":"2025-04-10T20:00Z","a":-0.18,"s":-0.26},
{"t":"2025-04-11T08:00Z","a":-0.14,"s":-0.2},
{"t":"2025-04-11T20:00Z","a":-0.1,"s":-0.15},
{"t":"2025-04-12T08:00Z","a":-0.05,"s":-0.1},
{"t":"2025-04-12T20:00Z","a":0.05,"s":-0.04},
{"t":"2025-04-13T08:00Z","a":0.15,"s":0.04},
{"t":"2025-04-13T16:00Z","a":0.15,"s":0.07},
{"t":"2025-04-14T04:00Z","a":0.09,"s":0.08},
{"t":"2025-04-14T16:00Z","a":0.01,"s":0.05},
{"t":"2025-04-15T04:00Z","a":-0.03,"s":0.02},
{"t":"2025-04-15T16:00Z","a":-0.05,"s":-0.01},
{"t":"2025-04-16T04:00Z","a":-0.08,"s":-0.04},
{"t":"2025-04-16T16:00Z","a":-0.1,"s":-0.07},
{"t":"2025-04-17T04:00Z","a":-0.12,"s":-0.09},
{"t":"2025-04-17T16:00Z","a":-0.13,"s":-0.11},
{"t":"2025-04-18T04:00Z","a":-0.13,"s":-0.12},
{"t":"2025-04-18T16:00Z","a":-0.09,"s":-0.11},
{"t":"2025-04-19T04:00Z","a":0.02,"s":-0.06},
{"t":"2025-04-19T16:00Z","a":0.09,"s":0.01},
{"t":"2025-04-20T04:00Z","a":0.1,"s":0.05},
{"t":"2025-04-20T16:00Z","a":0.09,"s":0.07},
{"t":"2025-04-21T04:00Z","a":0.1,"s":0.08},
{"t":"2025-04-21T16:00Z","a":0.12,"s":0.1},
{"t":"2025-04-22T04:00Z","a":0.16,"s":0.12},
{"t":"2025-04-22T16:00Z","a":0.26,"s":0.16},
{"t":"2025-04-23T04:00Z","a":0.36,"s":0.22},
{"t":"2025-04-23T12:00Z","a":0.45,"s":0.28},
{"t":"2025-04-23T16:00Z","a":0.8,"s":0.36},
{"t":"2025-04-23T20:00Z","a":0.98,"s":0.45},
{"t":"2025-04-24T04:00Z","a":1.08,"s":0.6},
{"t":"2025-04-24T12:00Z","a":1.1,"s":0.72},
{"t":"2025-04-24T20:00Z","a":1.07,"s":0.82},
{"t":"2025-04-25T04:00Z","a":1.05,"s":0.9},
{"t":"2025-04-25T12:00Z","a":1.17,"s":0.98},
{"t":"2025-04-25T20:00Z","a":1.2,"s":1.05},
{"t":"2025-04-26T04:00Z","a":1.22,"s":1.1},
{"t":"2025-04-26T12:00Z","a":1.38,"s":1.2},
{"t":"2025-04-26T20:00Z","a":1.47,"s":1.3},
{"t":"2025-04-27T04:00Z","a":1.45,"s":1.36},
{"t":"2025-04-27T12:00Z","a":1.3,"s":1.36},
{"t":"2025-04-27T20:00Z","a":1.15,"s":1.3},
{"t":"2025-04-28T04:00Z","a":1.0,"s":1.2},
{"t":"2025-04-28T12:00Z","a":0.92,"s":1.1},
{"t":"2025-04-28T20:00Z","a":0.78,"s":1.0},
{"t":"2025-04-29T04:00Z","a":0.6,"s":0.87},
{"t":"2025-04-29T12:00Z","a":0.42,"s":0.7},
{"t":"2025-04-29T20:00Z","a":0.25,"s":0.52},
{"t":"2025-04-30T04:00Z","a":0.08,"s":0.35},
{"t":"2025-04-30T12:00Z","a":-0.05,"s":0.2},
{"t":"2025-04-30T20:00Z","a":-0.15,"s":0.08},
{"t":"2025-05-01T04:00Z","a":-0.2,"s":-0.02},
{"t":"2025-05-01T12:00Z","a":-0.24,"s":-0.12},
{"t":"2025-05-01T20:00Z","a":-0.27,"s":-0.2},
{"t":"2025-05-02T04:00Z","a":-0.3,"s":-0.26},
{"t":"2025-05-02T12:00Z","a":-0.28,"s":-0.28},
{"t":"2025-05-02T20:00Z","a":-0.2,"s":-0.26},
{"t":"2025-05-03T04:00Z","a":-0.18,"s":-0.24},
{"t":"2025-05-03T12:00Z","a":-0.22,"s":-0.25},
{"t":"2025-05-03T20:00Z","a":-0.35,"s":-0.3},
{"t":"2025-05-04T04:00Z","a":-0.45,"s":-0.37},
{"t":"2025-05-04T12:00Z","a":-0.52,"s":-0.44},
{"t":"2025-05-04T20:00Z","a":-0.56,"s":-0.49},
{"t":"2025-05-05T04:00Z","a":-0.576,"s":-0.519}
]
},
"vconcat":[
{
"width":697,"height":223,
"data":{"values":[{}]},
"layer":[
{"data":{"name":"bb"},"mark":{"type":"area","color":"#2196f3","opacity":0.055},
 "encoding":{
  "x":{"field":"t","type":"temporal","scale":{"type":"utc","domain":[1743277090909,1746926836364],"padding":0},
   "axis":{"values":[1743465600000,1743638400000,1743811200000,1743984000000,1744156800000,1744329600000,1744502400000,1744675200000,1744848000000,1745020800000,1745193600000,1745366400000,1745539200000,1745712000000,1745884800000,1746057600000,1746230400000,1746403200000,1746576000000,1746748800000],"tickCount":100,"labels":false,"grid":true}},
  "y":{"field":"l","type":"quantitative","scale":{"domain":[5.4444,17.8333],"nice":false,"zero":false,"padding":0},
   "axis":{"orient":"right","values":[6,8,10,12,14,16],"tickCount":100,"format":".3f","labelAlign":"left","labelPadding":10,"grid":true}},
  "y2":{"field":"u"}}},
{"mark":{"type":"rule","color":"#089981","strokeDash":[1,2],"opacity":0.7},"encoding":{"y":{"datum":11.209}}},
{"data":{"name":"bb"},"mark":{"type":"line","color":"#f23645","strokeWidth":0.8},"encoding":{"x":{"field":"t","type":"temporal"},"y":{"field":"u","type":"quantitative"}}},
{"data":{"name":"bb"},"mark":{"type":"line","color":"#089981","strokeWidth":0.8},"encoding":{"x":{"field":"t","type":"temporal"},"y":{"field":"l","type":"quantitative"}}},
{"data":{"name":"bb"},"mark":{"type":"line","color":"#2962ff","strokeWidth":0.8},"encoding":{"x":{"field":"t","type":"temporal"},"y":{"field":"m","type":"quantitative"}}},
{"data":{"name":"k"},"transform":[{"calculate":"datum.c >= datum.o ? 'up' : 'dn'","as":"dir"}],
 "mark":{"type":"rule","strokeWidth":1},
 "encoding":{"x":{"field":"t","type":"temporal"},"y":{"field":"l","type":"quantitative"},"y2":{"field":"h"},
  "color":{"field":"dir","type":"nominal","scale":{"domain":["up","dn"],"range":["#089981","#f23645"]},"legend":null}}},
{"data":{"name":"k"},"transform":[{"calculate":"datum.c >= datum.o ? 'up' : 'dn'","as":"dir"}],
 "mark":{"type":"bar","width":1.9},
 "encoding":{"x":{"field":"t","type":"temporal"},"y":{"field":"o","type":"quantitative"},"y2":{"field":"c"},
  "color":{"field":"dir","type":"nominal","scale":{"domain":["up","dn"],"range":["#089981","#f23645"]},"legend":null}}},
{"mark":{"type":"text","text":"ParshwaTurakhiya28 published on TradingView.com, May 05, 2025 06:14 UTC","align":"left","baseline":"middle","fontSize":7.5,"color":"#131722","clip":false},"encoding":{"x":{"datum":1743287563636,"type":"temporal"},"y":{"datum":18.278}}},
{"mark":{"type":"text","text":"OFFICIAL TRUMP · 4h · CRYPTO","align":"left","baseline":"middle","fontSize":7.1,"color":"#131722"},"encoding":{"x":{"datum":1743313745455,"type":"temporal"},"y":{"datum":17.35}}},
{"mark":{"type":"text","text":"O","align":"left","baseline":"middle","fontSize":7.2,"color":"#131722"},"encoding":{"x":{"datum":1743853090909,"type":"temporal"},"y":{"datum":17.35}}},
{"mark":{"type":"text","text":"11.093","align":"left","baseline":"middle","fontSize":7.2,"color":"#089981"},"encoding":{"x":{"datum":1743876654545,"type":"temporal"},"y":{"datum":17.35}}},
{"mark":{"type":"text","text":"H","align":"left","baseline":"middle","fontSize":7.2,"color":"#131722"},"encoding":{"x":{"datum":1744020654545,"type":"temporal"},"y":{"datum":17.35}}},
{"mark":{"type":"text","text":"11.410","align":"left","baseline":"middle","fontSize":7.2,"color":"#089981"},"encoding":{"x":{"datum":1744044218182,"type":"temporal"},"y":{"datum":17.35}}},
{"mark":{"type":"text","text":"L","align":"left","baseline":"middle","fontSize":7.2,"color":"#131722"},"encoding":{"x":{"datum":1744177745455,"type":"temporal"},"y":{"datum":17.35}}},
{"mark":{"type":"text","text":"11.078","align":"left","baseline":"middle","fontSize":7.2,"color":"#089981"},"encoding":{"x":{"datum":1744196072727,"type":"temporal"},"y":{"datum":17.35}}},
{"mark":{"type":"text","text":"C","align":"left","baseline":"middle","fontSize":7.2,"color":"#131722"},"encoding":{"x":{"datum":1744324363636,"type":"temporal"},"y":{"datum":17.35}}},
{"mark":{"type":"text","text":"11.209","align":"left","baseline":"middle","fontSize":7.2,"color":"#089981"},"encoding":{"x":{"datum":1744347927273,"type":"temporal"},"y":{"datum":17.35}}},
{"mark":{"type":"text","text":"+0.117 (+1.05%)","align":"left","baseline":"middle","fontSize":7.2,"color":"#089981"},"encoding":{"x":{"datum":1744481454545,"type":"temporal"},"y":{"datum":17.35}}},
{"mark":{"type":"text","text":"BB (20, SMA, close, 2)","align":"left","baseline":"middle","fontSize":7.2,"color":"#131722"},"encoding":{"x":{"datum":1743313745455,"type":"temporal"},"y":{"datum":16.75}}},
{"mark":{"type":"text","text":"11.966","align":"left","baseline":"middle","fontSize":7.2,"color":"#2962ff"},"encoding":{"x":{"datum":1743706472727,"type":"temporal"},"y":{"datum":16.75}}},
{"mark":{"type":"text","text":"13.635","align":"left","baseline":"middle","fontSize":7.2,"color":"#f23645"},"encoding":{"x":{"datum":1743837381818,"type":"temporal"},"y":{"datum":16.75}}},
{"mark":{"type":"text","text":"10.297","align":"left","baseline":"middle","fontSize":7.2,"color":"#089981"},"encoding":{"x":{"datum":1743963054545,"type":"temporal"},"y":{"datum":16.75}}},
{"mark":{"type":"rect","fill":"#ffffff","stroke":"#e0e3eb","strokeWidth":1,"cornerRadius":2,"clip":false},"encoding":{"x":{"datum":1746953018182,"type":"temporal"},"x2":{"datum":1747131054545},"y":{"datum":17.611},"y2":{"datum":17.0}}},
{"mark":{"type":"text","text":"USD","align":"left","baseline":"middle","fontSize":7,"color":"#131722","clip":false},"encoding":{"x":{"datum":1746979200000,"type":"temporal"},"y":{"datum":17.306}}},
{"mark":{"type":"rect","fill":"#f23645","cornerRadius":1.5,"clip":false},"encoding":{"x":{"datum":1746937309091,"type":"temporal"},"x2":{"datum":1747104872727},"y":{"datum":13.915},"y2":{"datum":13.355}}},
{"mark":{"type":"text","text":"13.635","align":"left","baseline":"middle","fontSize":7,"color":"#ffffff","clip":false},"encoding":{"x":{"datum":1746953018182,"type":"temporal"},"y":{"datum":13.635}}},
{"mark":{"type":"rect","fill":"#2962ff","cornerRadius":1.5,"clip":false},"encoding":{"x":{"datum":1746937309091,"type":"temporal"},"x2":{"datum":1747104872727},"y":{"datum":12.246},"y2":{"datum":11.686}}},
{"mark":{"type":"text","text":"11.966","align":"left","baseline":"middle","fontSize":7,"color":"#ffffff","clip":false},"encoding":{"x":{"datum":1746953018182,"type":"temporal"},"y":{"datum":11.966}}},
{"mark":{"type":"rect","fill":"#089981","cornerRadius":1.5,"clip":false},"encoding":{"x":{"datum":1746937309091,"type":"temporal"},"x2":{"datum":1747131054545},"y":{"datum":11.449},"y2":{"datum":10.969}}},
{"mark":{"type":"text","text":"01:45:35","align":"left","baseline":"middle","fontSize":7,"color":"#ffffff","clip":false},"encoding":{"x":{"datum":1746953018182,"type":"temporal"},"y":{"datum":11.209}}},
{"mark":{"type":"rect","fill":"#089981","cornerRadius":1.5,"clip":false},"encoding":{"x":{"datum":1746937309091,"type":"temporal"},"x2":{"datum":1747104872727},"y":{"datum":10.577},"y2":{"datum":10.017}}},
{"mark":{"type":"text","text":"10.297","align":"left","baseline":"middle","fontSize":7,"color":"#ffffff","clip":false},"encoding":{"x":{"datum":1746953018182,"type":"temporal"},"y":{"datum":10.297}}}
]
},
{
"width":697,"height":106,
"data":{"values":[{}]},
"layer":[
{"mark":{"type":"rule","color":"#b2b5be","strokeDash":[2,2],"opacity":0.6},"encoding":{
  "x":{"datum":1743277090909,"type":"temporal","scale":{"type":"utc","domain":[1743277090909,1746926836364],"padding":0},
   "axis":{"values":[1743465600000,1743638400000,1743811200000,1743984000000,1744156800000,1744329600000,1744502400000,1744675200000,1744848000000,1745020800000,1745193600000,1745366400000,1745539200000,1745712000000,1745884800000,1746057600000,1746230400000,1746403200000,1746576000000,1746748800000],"tickCount":100,"grid":true,"labelFontSize":7.5,"labelPadding":7,"labelOverlap":false,"labelExpr":"datum.value > 1745800000000 ? '' : (utcdate(datum.value) == 1 ? utcFormat(datum.value, '%b') : utcFormat(datum.value, '%-d'))"}},
  "x2":{"datum":1746926836364},
  "y":{"datum":-0.056,"type":"quantitative","scale":{"domain":[-0.7385,1.828],"nice":false,"zero":false,"padding":0},
   "axis":{"orient":"right","values":[0,0.5,1,1.5],"tickCount":100,"format":".3f","labelAlign":"left","labelPadding":10,"grid":true,"labelOverlap":false}}}},
{"data":{"name":"k"},
 "transform":[{"window":[{"op":"lag","field":"m","as":"pm"}],"sort":[{"field":"t"}]},
  {"calculate":"datum.m >= 0 ? (datum.pm == null || datum.m >= datum.pm ? 'pg' : 'pf') : (datum.m < datum.pm ? 'ng' : 'nf')","as":"hc"}],
 "mark":{"type":"bar","width":1.9},
 "encoding":{"x":{"field":"t","type":"temporal"},"y":{"field":"m","type":"quantitative"},"y2":{"datum":0},
  "color":{"field":"hc","type":"nominal","scale":{"domain":["pg","pf","ng","nf"],"range":["#26a69a","#b2dfdb","#ff5252","#ffcdd2"]},"legend":null}}},
{"data":{"name":"md"},"mark":{"type":"line","color":"#2962ff","strokeWidth":0.8},"encoding":{"x":{"field":"t","type":"temporal"},"y":{"field":"a","type":"quantitative"}}},
{"data":{"name":"md"},"mark":{"type":"line","color":"#ff6d00","strokeWidth":0.8},"encoding":{"x":{"field":"t","type":"temporal"},"y":{"field":"s","type":"quantitative"}}},
{"mark":{"type":"text","text":"MACD (12, 26, close)","align":"left","baseline":"middle","fontSize":7,"color":"#131722"},"encoding":{"x":{"datum":1743313745455,"type":"temporal"},"y":{"datum":1.513}}},
{"mark":{"type":"text","text":"−0.056","align":"left","baseline":"middle","fontSize":7,"color":"#f7b5b5"},"encoding":{"x":{"datum":1743680290909,"type":"temporal"},"y":{"datum":1.513}}},
{"mark":{"type":"text","text":"−0.576","align":"left","baseline":"middle","fontSize":7,"color":"#2962ff"},"encoding":{"x":{"datum":1743811200000,"type":"temporal"},"y":{"datum":1.513}}},
{"mark":{"type":"text","text":"−0.519","align":"left","baseline":"middle","fontSize":7,"color":"#ff6d00"},"encoding":{"x":{"datum":1743957818182,"type":"temporal"},"y":{"datum":1.513}}},
{"mark":{"type":"rect","fill":"#ffcdd2","cornerRadius":1.5,"clip":false},"encoding":{"x":{"datum":1746937309091,"type":"temporal"},"x2":{"datum":1747104872727},"y":{"datum":0.065},"y2":{"datum":-0.177}}},
{"mark":{"type":"text","text":"−0.056","align":"left","baseline":"middle","fontSize":7,"color":"#131722","clip":false},"encoding":{"x":{"datum":1746953018182,"type":"temporal"},"y":{"datum":-0.056}}},
{"mark":{"type":"rect","fill":"#1e8fdc","cornerRadius":4,"clip":false},"encoding":{"x":{"datum":1745984290909,"type":"temporal"},"x2":{"datum":1746261818182},"y":{"datum":-0.521},"y2":{"datum":-1.707}}},
{"mark":{"type":"rect","fill":"#8dc63f","cornerRadius":4,"clip":false},"encoding":{"x":{"datum":1745916218182,"type":"temporal"},"x2":{"datum":1746178036364},"y":{"datum":-0.424},"y2":{"datum":-1.368}}},
{"mark":{"type":"rect","fill":"#1b7b3a","clip":false},"encoding":{"x":{"datum":1745984290909,"type":"temporal"},"x2":{"datum":1746178036364},"y":{"datum":-0.521},"y2":{"datum":-1.368}}},
{"mark":{"type":"text","text":"B","align":"center","baseline":"middle","font":"DejaVu Sans","fontSize":26,"fontWeight":"bold","fontStyle":"italic","color":"#ffffff","clip":false},"encoding":{"x":{"datum":1746083781818,"type":"temporal"},"y":{"datum":-0.787}}},
{"mark":{"type":"text","text":"开拓者奇点","align":"center","baseline":"middle","font":"Noto Sans CJK SC","fontSize":28,"fontWeight":"bold","color":"#1f4e5f","clip":false},"encoding":{"x":{"datum":1746727854545,"type":"temporal"},"y":{"datum":-0.799}}},
{"mark":{"type":"text","text":"JSKTZ.COM","align":"center","baseline":"middle","font":"DejaVu Sans","fontSize":15,"fontWeight":"bold","color":"#8dc63f","clip":false},"encoding":{"x":{"datum":1746727854545,"type":"temporal"},"y":{"datum":-1.38}}},
{"mark":{"type":"text","text":"17","align":"left","baseline":"middle","font":"DejaVu Sans","fontSize":10,"fontWeight":"bold","color":"#131722","clip":false},"encoding":{"x":{"datum":1743287563636,"type":"temporal"},"y":{"datum":-1.489}}},
{"mark":{"type":"text","text":"TradingView","align":"left","baseline":"middle","fontSize":8.5,"color":"#131722","clip":false},"encoding":{"x":{"datum":1743366109091,"type":"temporal"},"y":{"datum":-1.489}}}
]
}
]
}
